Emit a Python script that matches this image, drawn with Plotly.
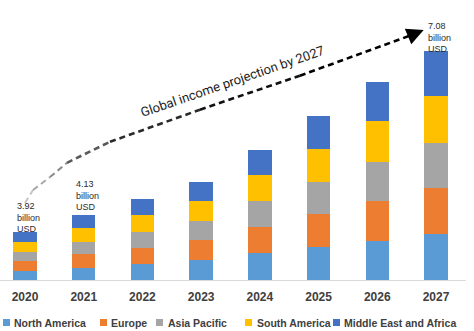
import plotly.graph_objects as go

years = ["2020", "2021", "2022", "2023", "2024", "2025", "2026", "2027"]
x_pos = list(range(len(years)))

north_america = [0.28, 0.37, 0.49, 0.62, 0.83, 1.02, 1.21, 1.42]
europe = [0.31, 0.43, 0.49, 0.62, 0.80, 1.02, 1.24, 1.42]
asia_pacific = [0.28, 0.37, 0.49, 0.59, 0.80, 0.99, 1.21, 1.39]
south_america = [0.31, 0.43, 0.53, 0.62, 0.80, 1.02, 1.24, 1.45]
middle_east_africa = [0.31, 0.40, 0.49, 0.59, 0.80, 1.02, 1.21, 1.39]

series_names = ["North America", "Europe", "Asia Pacific", "South America", "Middle East and Africa"]
series_values = [north_america, europe, asia_pacific, south_america, middle_east_africa]
colors = ["#5B9BD5", "#ED7D31", "#A5A5A5", "#FFC000", "#4472C4"]

# value callouts (year index, label)
callout_years = [0, 1, 7]
callout_labels = ["3.92<br>billion<br>USD", "4.13<br>billion<br>USD", "7.08<br>billion<br>USD"]

# projection arrow path (decorative)
arrow_x = [0.0, 0.136, 0.426, 0.715, 1.448, 2.98, 4.68, 6.59]
arrow_y = [2.38, 2.78, 3.18, 3.62, 4.27, 5.26, 6.31, 7.57]
arrow_colors = ["#c4c4c4", "#a8a8a8", "#8a8a8a", "#5a5a5a", "#2a2a2a", "#111111", "#000000"]

fig = go.Figure()

for name, vals, col in zip(series_names, series_values, colors):
    fig.add_trace(go.Bar(
        x=x_pos, y=vals, name=name,
        marker=dict(color=col, line=dict(width=0)),
        width=0.4, showlegend=False,
    ))

for i in range(len(arrow_x) - 1):
    fig.add_trace(go.Scatter(
        x=arrow_x[i:i + 2], y=arrow_y[i:i + 2], mode="lines",
        line=dict(color=arrow_colors[i], width=2 if i < 3 else 2.6, dash="6px,4px"),
        showlegend=False, hoverinfo="skip",
    ))

# arrowhead
fig.add_annotation(
    x=6.79, y=7.72, ax=arrow_x[-1], ay=arrow_y[-1],
    xref="x", yref="y", axref="x", ayref="y",
    text="", showarrow=True, arrowhead=2, arrowsize=1.3, arrowwidth=2.6,
    arrowcolor="#000000",
)

callout_y = [1.92, 2.6, 7.5]
callout_dx = [-0.17, -0.17, -0.17]
for idx, lab, cy, dx in zip(callout_years, callout_labels, callout_y, callout_dx):
    fig.add_annotation(
        x=x_pos[idx] + dx, y=cy, xref="x", yref="y",
        text=lab, showarrow=False, xanchor="left", yanchor="middle", align="left",
        font=dict(family="Liberation Sans, Arial, sans-serif", size=9, color="#2b2b2b"),
    )

fig.add_annotation(
    x=3.53, y=6.12, xref="x", yref="y",
    text="Global income projection by 2027", showarrow=False,
    textangle=-19,
    font=dict(family="Roboto, Arial, sans-serif", size=13, color="#1e1e1e"),
)

# legend drawn as squares + labels
W = 466.0
H = 259.0
leg_sq_x = [3, 100, 156, 245, 333]
leg_txt_x = [12, 109, 166, 255, 342]
for name, col, sx, tx in zip(series_names, colors, leg_sq_x, leg_txt_x):
    fig.add_shape(
        type="rect", xref="paper", yref="paper",
        x0=sx / W, x1=(sx + 7) / W,
        y0=(280 - 326) / H, y1=(280 - 319) / H,
        fillcolor=col, line=dict(width=0),
    )
    fig.add_annotation(
        x=tx / W, y=(280 - 322.5) / H, xref="paper", yref="paper",
        text="<b>" + name + "</b>", showarrow=False, xanchor="left", yanchor="middle",
        font=dict(family="Liberation Sans, Arial, sans-serif", size=10.5, color="#404040"),
    )

fig.update_layout(
    width=474, height=331,
    margin=dict(l=0, r=8, t=21, b=51),
    paper_bgcolor="white", plot_bgcolor="white",
    barmode="stack", bargap=0.6,
    showlegend=False,
    xaxis=dict(
        range=[-0.426, 7.511], tickmode="array", tickvals=x_pos, ticktext=years,
        showgrid=False, zeroline=False, showline=True, linecolor="#d9d9d9", linewidth=1,
        ticks="", ticklabelstandoff=6,
        tickfont=dict(family="Liberation Sans, Arial, sans-serif", size=12, color="#404040", weight="bold"),
    ),
    yaxis=dict(range=[0, 8], visible=False, showgrid=False, zeroline=False),
)

fig.write_html("out.html")
